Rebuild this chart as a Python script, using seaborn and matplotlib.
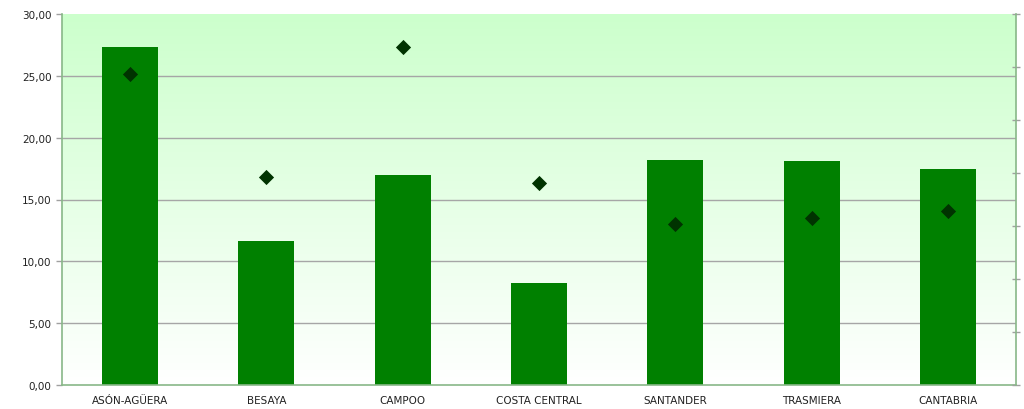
import matplotlib
matplotlib.use("Agg")
import matplotlib.pyplot as plt
from matplotlib.ticker import FuncFormatter, MultipleLocator
import numpy as np
import pandas as pd
import seaborn as sns

# ------------------------------------------------------------------------------
# Data
# ------------------------------------------------------------------------------

comarcas = [
    "ASÓN-AGÜERA", "BESAYA", "CAMPOO", "COSTA CENTRAL",
    "SANTANDER", "TRASMIERA", "CANTABRIA",
]
bar_values = [27.30, 11.64, 16.98, 8.25, 18.19, 18.11, 17.46]
point_values = [25.15, 16.82, 27.33, 16.33, 13.02, 13.50, 14.07]

y_ticks = [0, 5, 10, 15, 20, 25, 30]

df = pd.DataFrame({
    "comarca": comarcas,
    "barra": bar_values,
    "punto": point_values,
})

# ------------------------------------------------------------------------------
# Plot
# ------------------------------------------------------------------------------

sns.set_style("white")
plt.rcParams["font.family"] = ["DejaVu Sans"]

fig = plt.figure(figsize=(10.24, 4.10), dpi=100)
ax = fig.add_axes([62 / 1024, 24 / 410, 954 / 1024, 371 / 410])

# ===== Gradient background =====
grad = np.linspace(0, 1, 256).reshape(-1, 1)
top = np.array([0.80, 1.0, 0.80])
bottom = np.array([1.0, 1.0, 1.0])
img = top * (1 - grad[..., None]) + bottom * grad[..., None]
img = np.repeat(img, 2, axis=1)
ax.imshow(
    img,
    extent=[-0.5, len(comarcas) - 0.5, 0, 30],
    aspect="auto",
    zorder=0,
    origin="upper",
)

# ===== Grid =====
for y in y_ticks[1:-1]:
    ax.axhline(y, color="#a6a6a6", linewidth=1.0, zorder=1)

# ===== Bars =====
sns.barplot(
    data=df,
    x="comarca",
    y="barra",
    color="#008000",
    saturation=1,
    width=0.41,
    linewidth=0,
    ax=ax,
    zorder=2,
)

# ===== Diamonds =====
sns.scatterplot(
    data=df,
    x="comarca",
    y="punto",
    marker="D",
    color="#003300",
    s=60,
    linewidth=0,
    ax=ax,
    zorder=3,
)

ax.set_xlim(-0.5, len(comarcas) - 0.5)
ax.set_ylim(0, 30)
ax.set_xlabel("")
ax.set_ylabel("")
ax.set_yticks(y_ticks)
ax.yaxis.set_major_formatter(
    FuncFormatter(lambda v, p: f"{v:.2f}".replace(".", ","))
)

ax.set_xticks(range(len(comarcas)))
ax.set_xticklabels(comarcas)
ax.xaxis.set_minor_locator(MultipleLocator(1, offset=0.5))
ax.tick_params(axis="x", which="major", length=0, labelsize=7.5,
               labelcolor="#222222", pad=7)
ax.tick_params(axis="x", which="minor", length=5, color="#a0a0a0",
               direction="inout", width=1)
ax.tick_params(axis="y", length=4, color="#a0a0a0", labelsize=7.5,
               labelcolor="#222222", direction="out", width=1)
ax.yaxis.set_tick_params(left=True)

for side in ["top", "right"]:
    ax.spines[side].set_visible(False)
ax.spines["left"].set_color("#88b888")
ax.spines["bottom"].set_color("#88b888")
ax.spines["left"].set_linewidth(1.2)
ax.spines["bottom"].set_linewidth(1.2)

# ===== Secondary axis (ticks only) =====
ax2 = ax.twinx()
ax2.set_ylim(0, 35)
ax2.set_yticks(np.arange(0, 36, 5))
ax2.set_yticklabels([])
ax2.tick_params(axis="y", length=6, color="#a0a0a0", direction="inout",
                width=1)
for side in ["top", "left", "bottom"]:
    ax2.spines[side].set_visible(False)
ax2.spines["right"].set_color("#88b888")
ax2.spines["right"].set_linewidth(1.2)

fig.savefig("out.png", dpi=100)
